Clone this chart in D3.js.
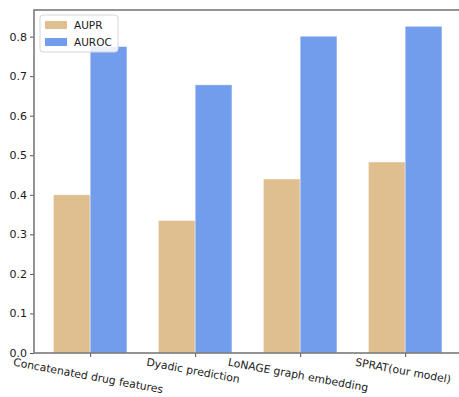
<!DOCTYPE html>
<html>
  <head>
    <meta charset="utf-8">
    <title>AUPR / AUROC</title>
    <style>
      body { margin: 0; background: #fff; }
      text { font-family: 'DejaVu Sans', sans-serif; fill: #1a1a1a; }
    </style>
  </head>
  <body>
    <script src="https://d3js.org/d3.v7.min.js"></script>
    <script type="text/javascript">
      var categories = ['Concatenated drug features', 'Dyadic prediction', 'LoNAGE graph embedding', 'SPRAT(our model)'];
      var aupr = [0.400, 0.335, 0.440, 0.483];
      var auroc = [0.775, 0.678, 0.801, 0.826];
      var seriesNames = ['AUPR', 'AUROC'];
      var yTicks = [0.0, 0.1, 0.2, 0.3, 0.4, 0.5, 0.6, 0.7, 0.8];

      var w = 459, h = 397;
      var padLeft = 34, padTop = 10, padBottom = 353;
      var colors = ['#dfbe8f', '#729dec'];
      var barW = 0.35;

      var svg = d3.select('body').append('svg').attr('width', w).attr('height', h);

      var yMax = d3.max(auroc) * 1.05;
      var yScale = d3.scaleLinear().domain([0, yMax]).range([padBottom, padTop]);
      var xScale = d3.scaleLinear().domain([-0.535, 3.535]).range([padLeft, padLeft + 105 * 4.07]);

      var series = [aupr, auroc];
      series.forEach(function(vals, s) {
        svg.append('g').selectAll('rect')
          .data(vals)
          .enter()
          .append('rect')
          .attr('x', function(d, i) { return xScale(i - barW + s * barW); })
          .attr('width', xScale(barW) - xScale(0))
          .attr('y', function(d) { return yScale(d); })
          .attr('height', function(d) { return yScale(0) - yScale(d); })
          .attr('fill', colors[s])
          .attr('stroke', '#fff')
          .attr('stroke-opacity', 0.5)
          .attr('stroke-width', 0.8);
      });

      // y axis
      var yAxis = d3.axisLeft(yScale).tickValues(yTicks).tickFormat(d3.format('.1f')).tickSize(4).tickPadding(3);
      var gy = svg.append('g').attr('transform', 'translate(' + padLeft + ',0)').call(yAxis);
      gy.select('.domain').remove();
      gy.selectAll('line').attr('stroke', '#555');
      gy.selectAll('text').attr('font-size', '11px').attr('fill', '#1a1a1a').style('font-family', 'DejaVu Sans, sans-serif');

      // x axis ticks
      var xAxis = d3.axisBottom(xScale).tickValues([0, 1, 2, 3]).tickFormat('').tickSize(4);
      var gx = svg.append('g').attr('transform', 'translate(0,' + padBottom + ')').call(xAxis);
      gx.select('.domain').remove();
      gx.selectAll('line').attr('stroke', '#555');

      // spines
      var xr = xScale.range()[1];
      svg.append('rect')
        .attr('x', padLeft).attr('y', padTop)
        .attr('width', xr - padLeft).attr('height', padBottom - padTop)
        .attr('fill', 'none').attr('stroke', '#7a7a7a').attr('stroke-width', 1.6);

      // rotated category labels
      var angle = 10.5;
      var rad = angle * Math.PI / 180;
      categories.forEach(function(c, i) {
        var t = svg.append('text')
          .text(c)
          .attr('font-size', '10.8px')
          .attr('text-anchor', 'middle')
          .attr('dy', '0.35em');
        var tw = t.node().getComputedTextLength();
        var th = 12;
        var bh = tw * Math.sin(rad) + th * Math.cos(rad);
        var cx = xScale(i) - 2;
        var cy = padBottom + 3 + bh / 2;
        t.attr('transform', 'translate(' + cx + ',' + cy + ') rotate(' + angle + ')');
      });

      // legend
      var lg = svg.append('g').attr('transform', 'translate(40,15)');
      lg.append('rect')
        .attr('width', 78).attr('height', 37).attr('rx', 3)
        .attr('fill', '#fff').attr('fill-opacity', 0.85)
        .attr('stroke', '#d6d6d6');
      seriesNames.forEach(function(n, k) {
        lg.append('rect')
          .attr('x', 5).attr('y', 6 + k * 17)
          .attr('width', 22).attr('height', 8)
          .attr('fill', colors[k]);
        lg.append('text')
          .attr('x', 34).attr('y', 10 + k * 17)
          .attr('dy', '0.35em')
          .attr('font-size', '10.5px')
          .text(n);
      });
    </script>
  </body>
</html>
